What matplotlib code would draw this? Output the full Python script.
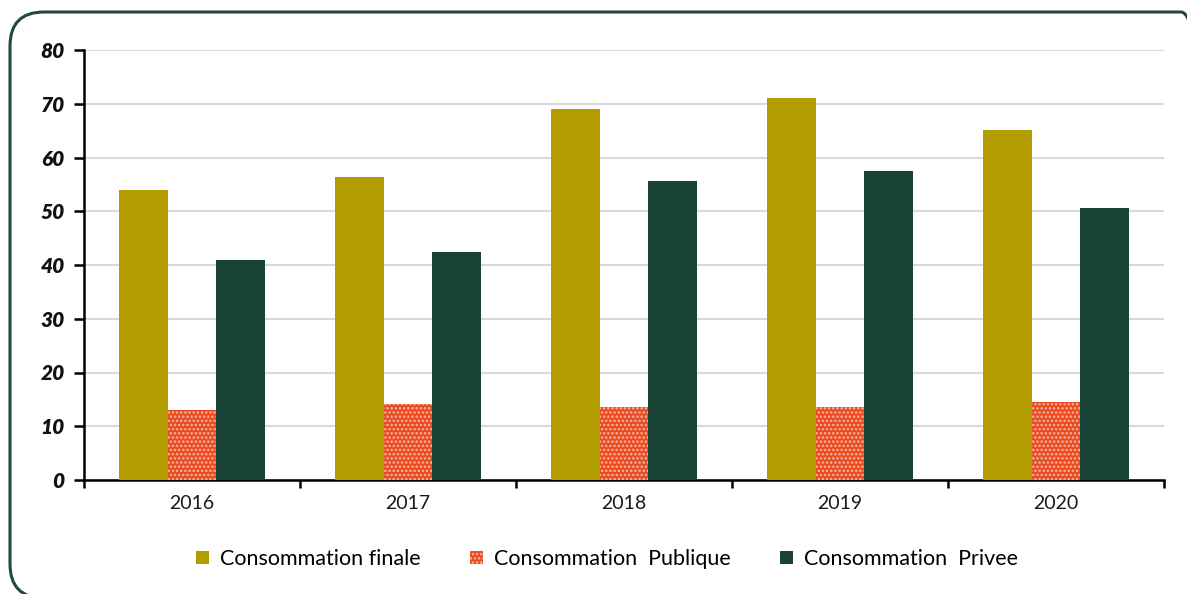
import matplotlib
matplotlib.use("Agg")
import matplotlib.pyplot as plt
import numpy as np
from matplotlib.patches import FancyBboxPatch, Patch
from matplotlib.transforms import IdentityTransform

plt.rcParams["hatch.linewidth"] = 1.2

years = ["2016", "2017", "2018", "2019", "2020"]
consommation_finale = [54.0, 56.4, 69.0, 71.1, 65.1]
consommation_publique = [13.0, 14.1, 13.6, 13.6, 14.5]
consommation_privee = [41.0, 42.4, 55.6, 57.5, 50.6]
series_labels = ["Consommation finale", "Consommation  Publique", "Consommation  Privee"]

c_finale = "#b39c00"
c_publique = "#ea4a20"
c_privee = "#1a4338"
frame_color = "#1f4a3c"

fig = plt.figure(figsize=(11.87, 5.94), dpi=100)

# rounded frame around the whole chart (pixel coordinates)
frame = FancyBboxPatch((10, -4), 1205, 594 - 12 + 4,
                       boxstyle="round,pad=0,rounding_size=34",
                       transform=IdentityTransform(), facecolor="none",
                       edgecolor=frame_color, linewidth=2.2)
fig.patches.append(frame)

ax = fig.add_axes([84 / 1187, 1 - 480 / 594, 1080 / 1187, 430 / 594])

x = np.arange(len(years))
w = 0.225
ax.bar(x - w, consommation_finale, w, color=c_finale, zorder=3, linewidth=0)
ax.bar(x, consommation_publique, w, color=c_publique, zorder=3,
       hatch="....", edgecolor="#f6b7a4", linewidth=0)
ax.bar(x + w, consommation_privee, w, color=c_privee, zorder=3, linewidth=0)

ax.set_xlim(-0.5, len(years) - 0.5)
ax.set_ylim(0, 80)
ax.set_yticks(np.arange(0, 81, 10))
ax.yaxis.grid(True, color="#d9d9d9", linewidth=1.5, zorder=0)
ax.set_axisbelow(True)

for side in ("top", "right"):
    ax.spines[side].set_visible(False)
for side in ("left", "bottom"):
    ax.spines[side].set_linewidth(1.8)
    ax.spines[side].set_color("black")

ax.set_xticks(x)
ax.set_xticklabels(years, fontsize=14, family="Lato", color="#1a1a1a")
ax.set_xticks(np.arange(-0.5, len(years)), minor=True)
ax.tick_params(axis="x", which="major", length=0, pad=11)
ax.tick_params(axis="x", which="minor", length=6, width=1.8, direction="out")
ax.tick_params(axis="y", length=7, width=1.8, direction="out", pad=7)
for lbl in ax.get_yticklabels():
    lbl.set_fontsize(15)
    lbl.set_fontweight("heavy")
    lbl.set_fontstyle("italic")
    lbl.set_family("Lato")
    lbl.set_color("#111111")

handles = [
    Patch(facecolor=c_finale, linewidth=0),
    Patch(facecolor=c_publique, hatch="....", edgecolor="#f6b7a4", linewidth=0),
    Patch(facecolor=c_privee, linewidth=0),
]
fig.legend(handles, series_labels, loc="center", bbox_to_anchor=(607 / 1187, 1 - 559 / 594),
           ncol=3, frameon=False, prop={"family": "Lato", "size": 15.5},
           handlelength=0.6, handleheight=0.6, columnspacing=2.3, handletextpad=0.5)

fig.savefig("out.png", dpi=100)
